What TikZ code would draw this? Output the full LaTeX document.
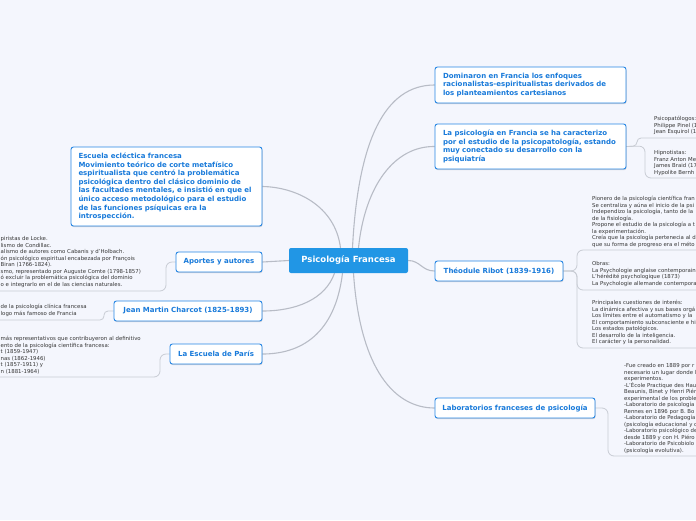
\documentclass[tikz,border=0pt]{standalone}
\usepackage{fontspec}
\setmainfont{DejaVu Sans}
\usetikzlibrary{shadows}
\pgfdeclarelayer{back}
\pgfdeclarelayer{links}
\pgfsetlayers{back,links,main}
\definecolor{bg}{RGB}{244,246,253}
\definecolor{boxblue}{RGB}{38,134,228}
\definecolor{txtblue}{RGB}{24,122,218}
\definecolor{centralblue}{RGB}{33,150,229}
\definecolor{conn}{RGB}{184,188,198}
\definecolor{subconn}{RGB}{200,204,212}
\definecolor{smalltxt}{RGB}{55,55,55}
\tikzset{
  topic/.style={draw=boxblue, line width=0.9pt, fill=white, rounded corners=2.5pt,
    text=txtblue, font=\fontsize{7}{8.6}\selectfont\bfseries, inner sep=0pt, align=left,
    drop shadow={shadow xshift=0.5pt, shadow yshift=-1.2pt, opacity=0.15, fill=black}},
  centraltopic/.style={fill=centralblue, rounded corners=2pt, text=white,
    font=\fontsize{8.5}{10}\selectfont\bfseries, inner sep=0pt,
    minimum width=119pt, minimum height=25pt},
  note/.style={anchor=north west, inner sep=0pt, align=left, text=smalltxt,
    font=\fontsize{5.4}{6.5}\selectfont},
  conn/.style={draw=conn, line width=1.1pt},
  subconn/.style={draw=subconn, line width=0.8pt, rounded corners=6pt}
}
\begin{document}
\begin{tikzpicture}[x=1pt,y=-1pt]
\useasboundingbox (0,0) rectangle (696,520);
\begin{pgfonlayer}{back}
\fill[bg] (0,0) rectangle (696,520);
\end{pgfonlayer}
\clip (0,0) rectangle (696,520);

% central
\node[centraltopic] (c) at (348.5,260.5) {Psicología Francesa};

% main topics
\node[topic, text width=175pt, minimum width=191pt, minimum height=36pt] (dom) at (530.5,85)
  {Dominaron en Francia los enfoques\\racionalistas-espiritualistas derivados de\\los planteamientos cartesianos};
\node[topic, text width=175pt, minimum width=191pt, minimum height=45pt] (car) at (530.5,146.5)
  {La psicología en Francia se ha caracterizo\\por el estudio de la psicopatología, estando\\muy conectado su desarrollo con la\\psiquiatría};
\node[topic, minimum width=128pt, minimum height=20pt] (rib) at (499,271) {Théodule Ribot (1839-1916)};
\node[topic, minimum width=160pt, minimum height=20pt] (lab) at (515,408) {Laboratorios franceses de psicología};
\node[topic, text width=176pt, minimum width=191pt, minimum height=79pt] (ecl) at (166.5,186.5)
  {Escuela ecléctica francesa\\Movimiento teórico de corte metafísico\\espiritualista que centró la problemática\\psicológica dentro del clásico dominio de\\las facultades mentales, e insistió en que el\\único acceso metodológico para el estudio\\de las funciones psíquicas era la\\introspección.};
\node[topic, minimum width=86pt, minimum height=20pt] (apo) at (219,262) {Aportes y autores};
\node[topic, minimum width=148pt, minimum height=20pt] (cha) at (188,311) {Jean Martin Charcot (1825-1893)};
\node[topic, minimum width=92pt, minimum height=20pt] (par) at (216,354) {La Escuela de París};

% notes right
\node[note] (psi) at (654,116.2) {Psicopatólogos:\\Philippe Pinel (1\\Jean Esquirol (1};
\node[note] (hip) at (654,150.2) {Hipnotistas:\\Franz Anton Me\\James Braid (17\\Hypolite Bernh};
\node[note] (pio) at (592,196.2) {Pionero de la psicología científica fran\\Se centraliza y aúna el inicio de la psi\\Independizo la psicología, tanto de la\\de la fisiología.\\Propone el estudio de la psicología a t\\la experimentación.\\Creía que la psicología pertenecia al d\\que su forma de progreso era el méto};
\node[note] (obr) at (592,261.2) {Obras:\\La Psychologie anglaise contemporain\\L'hérédité psychologique (1873)\\La Psychologie allemande contempora};
\node[note] (pri) at (592,300.2) {Principales cuestiones de interés:\\La dinámica afectiva y sus bases orgá\\Los límites entre el automatismo y la\\El comportamiento subconsciente e hi\\Los estados patológicos.\\El desarrollo de la inteligencia.\\El carácter y la personalidad.};
\node[note] (labt) at (624,363.2) {-Fue creado en 1889 por r\\necesario un lugar donde l\\experimentos.\\-L'École Practique des Hau\\Beaunis, Binet y Henri Piér\\experimental de los proble\\-Laboratorio de psicología\\Rennes en 1896 por B. Bo\\-Laboratorio de Pedagogía\\(psicología educacional y c\\-Laboratorio psicológico de\\desde 1889 y con H. Piéro\\-Laboratorio de Psicobiolo\\(psicología evolutiva).};

% notes left
\node[note] (apot) at (0.5,236.2) {piristas de Locke.\\lismo de Condillac.\\alismo de autores como Cabanis y d'Holbach.\\ón psicológico espiritual encabezada por François\\Biran (1766-1824).\\smo, representado por Auguste Comte (1798-1857)\\ó excluir la problemática psicológica del dominio\\o e integrarlo en el de las ciencias naturales.};
\node[note] (chat) at (0.5,304.2) {de la psicología clínica francesa\\logo más famoso de Francia};
\node[note] (part) at (0.5,336.2) {más representativos que contribuyeron al definitivo\\ento de la psicología científica francesa:\\t (1859-1947)\\nas (1862-1946)\\t (1857-1911) y\\n (1881-1964)};

% free ends of the underlines
\coordinate (psiE) at (696,138);
\coordinate (hipE) at (696,178);
\coordinate (pioE) at (696,250);
\coordinate (obrE) at (696,290);
\coordinate (priE) at (696,348);
\coordinate (labE) at (696,456);
\coordinate (apoW) at (0,291);
\coordinate (chaW) at (0,320);
\coordinate (parW) at (0,377);

\begin{pgfonlayer}{links}
\draw[conn] ([xshift=-8pt]c.north) .. controls (335,205) and (295,187) .. (ecl.east);
\draw[conn] ([xshift=4pt]c.north) .. controls (358,140) and (385,85) .. (dom.west);
\draw[conn] ([xshift=10pt]c.north) .. controls (365,185) and (395,146) .. (car.west);
\draw[conn] (c.east) .. controls (420,260.5) and (422,271) .. (rib.west);
\draw[conn] (c.west) -- (apo.east);
\draw[conn] ([xshift=-14pt]c.south) .. controls (325,300) and (295,311) .. (cha.east);
\draw[conn] ([xshift=-6pt]c.south) .. controls (335,335) and (300,354) .. (par.east);
\draw[conn] ([xshift=5pt]c.south) .. controls (360,370) and (395,408) .. (lab.west);

\draw[subconn, rounded corners=4pt] (car.east) -- (637,146) -- (637,138) -- (psiE);
\draw[subconn] (car.east) -- (645,146) -- (645,178) -- (hipE);
\draw[subconn] (rib.east) -- (577,271) -- (577,250) -- (pioE);
\draw[subconn] (rib.east) -- (577,271) -- (577,290) -- (obrE);
\draw[subconn] (rib.east) -- (577,271) -- (577,348) -- (priE);
\draw[subconn] (lab.east) -- (608,408) -- (608,456) -- (labE);
\draw[subconn] (apo.west) -- (166,262) -- (166,291) -- (apoW);
\draw[subconn, rounded corners=4pt] (cha.west) -- (104,311) -- (104,320) -- (chaW);
\draw[subconn] (par.west) -- (160,354) -- (160,377) -- (parW);
\end{pgfonlayer}
\end{tikzpicture}
\end{document}
